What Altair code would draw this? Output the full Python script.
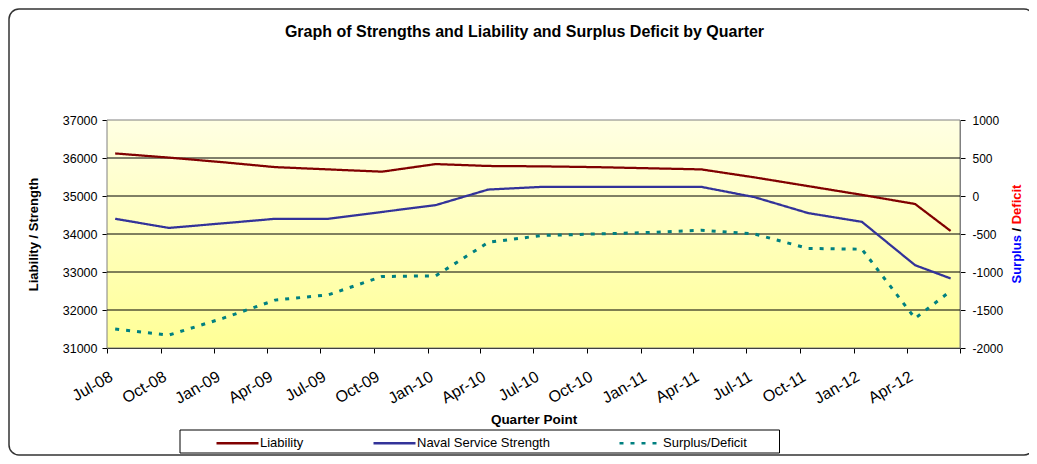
import altair as alt
import pandas as pd

# ---------------- data ----------------
quarters = ["Jul-08", "Oct-08", "Jan-09", "Apr-09", "Jul-09", "Oct-09", "Jan-10", "Apr-10",
            "Jul-10", "Oct-10", "Jan-11", "Apr-11", "Jul-11", "Oct-11", "Jan-12", "Apr-12", "Jul-12"]
point_dates = ["2008-07-15", "2008-10-15", "2009-01-15", "2009-04-15", "2009-07-15", "2009-10-15",
               "2010-01-15", "2010-04-15", "2010-07-15", "2010-10-15", "2011-01-15", "2011-04-15",
               "2011-07-15", "2011-10-15", "2012-01-15", "2012-04-15", "2012-06-15"]
liability = [36120, 36010, 35890, 35760, 35700, 35640, 35840, 35790, 35780,
             35760, 35730, 35700, 35490, 35260, 35030, 34790, 34080]
strength = [34400, 34160, 34280, 34400, 34400, 34580, 34760, 35170, 35240,
            35240, 35240, 35240, 34970, 34550, 34320, 33180, 32830]
surplus = [-1750, -1830, -1610, -1370, -1300, -1060, -1050, -610, -520,
           -500, -480, -450, -500, -690, -700, -1610, -1250]
series_names = ["Liability", "Naval Service Strength", "Surplus/Deficit"]
series_colors = ["#800000", "#333399", "#008080"]
left_ticks = [31000, 32000, 33000, 34000, 35000, 36000, 37000]
right_ticks = [-2000, -1500, -1000, -500, 0, 500, 1000]

title_text = "Graph of Strengths and Liability and Surplus Deficit by Quarter"

# ---------------- frames ----------------
n = len(point_dates)
left_df = pd.DataFrame({
    "date": point_dates * 2,
    "value": liability + strength,
    "series": [series_names[0]] * n + [series_names[1]] * n,
})
right_df = pd.DataFrame({"date": point_dates, "value": surplus, "series": series_names[2]})
grid_df = pd.DataFrame({"g": left_ticks[1:-1]})
one = pd.DataFrame({"k": [0]})

tick_dates = [pd.to_datetime(q, format="%b-%y") for q in quarters]


def dt(ts):
    return alt.DateTime(year=ts.year, month=ts.month, date=ts.day, utc=True)


W, H = 853, 228
FONT = "Liberation Sans"

x_axis = alt.Axis(
    values=[dt(t) for t in tick_dates],
    labelExpr="utcyear(datum.value) == 2012 && utcmonth(datum.value) == 6 ? '' : utcFormat(datum.value, '%b-%y')",
    labelAngle=330, labelAlign="right", labelBaseline="middle",
    labelPadding=22, labelOffset=4, labelFontSize=16, labelColor="black",
    tickSize=5, tickColor="black", domainColor="black", grid=False,
    title="Quarter Point", titleY=71, titleBaseline="middle", titleFontSize=13.5,
    titleFontWeight="bold", titleColor="black",
)
x_enc = alt.X("date:T",
              scale=alt.Scale(type="utc", domain=[dt(tick_dates[0]), dt(tick_dates[-1])]),
              axis=x_axis)

yl_scale = alt.Scale(domain=[left_ticks[0], left_ticks[-1]], nice=False, zero=False)
yl_axis = alt.Axis(
    values=left_ticks, labelExpr="'' + datum.value", grid=False,
    tickSize=5, tickColor="black", domainColor="#808080", labelPadding=5,
    labelFontSize=12.5, labelColor="black",
    title="Liability / Strength", titleX=-74, titleY=H / 2, titleAngle=270,
    titleAlign="center", titleBaseline="middle", titleFontSize=13,
    titleFontWeight="bold", titleColor="black",
)

legend = alt.Legend(
    title=None, orient="none", legendX=108, legendY=300.5, direction="horizontal",
    columnPadding=64, labelFontSize=13, labelColor="black", symbolSize=1764,
    symbolStrokeWidth=2.5, labelOffset=0, padding=0, symbolType="stroke",
)
color = alt.Color("series:N", scale=alt.Scale(domain=series_names, range=series_colors), legend=legend)
dash = alt.StrokeDash("series:N", scale=alt.Scale(domain=series_names, range=[[1, 0], [1, 0], [4, 7]]),
                      legend=legend)

# ---------------- layers ----------------
border = alt.Chart(one).mark_rect(filled=False, color="#333333", strokeWidth=1.5, cornerRadius=10).encode(
    x=alt.value(-98), x2=alt.value(W + 74), y=alt.value(-111), y2=alt.value(H + 107))

bg = alt.Chart(one).mark_rect(
    stroke="#808080", strokeWidth=1,
    fill=alt.Gradient(gradient="linear", x1=0, x2=0, y1=0, y2=1,
                      stops=[alt.GradientStop(offset=0, color="#FFFFE3"),
                             alt.GradientStop(offset=1, color="#FFFF96")]),
).encode(x=alt.value(0), x2=alt.value(W), y=alt.value(0), y2=alt.value(H))

grid = alt.Chart(grid_df).mark_rule(color="black", strokeWidth=1).encode(
    y=alt.Y("g:Q", scale=yl_scale, axis=yl_axis))

left_lines = alt.Chart(left_df).mark_line(strokeWidth=2.25).encode(
    x=x_enc, y=alt.Y("value:Q", scale=yl_scale, axis=yl_axis), color=color, strokeDash=dash)

left = alt.layer(grid, left_lines)

right_line = alt.Chart(right_df).mark_line(strokeWidth=3, strokeCap="butt").encode(
    x=x_enc,
    y=alt.Y("value:Q", scale=alt.Scale(domain=[right_ticks[0], right_ticks[-1]], nice=False, zero=False),
            axis=alt.Axis(orient="right", values=right_ticks, labelExpr="'' + datum.value", grid=False,
                          title=None, tickSize=5, tickColor="black", domainColor="#808080",
                          labelPadding=7, labelFontSize=12, labelColor="black")),
    color=color, strokeDash=dash)

legend_box = alt.Chart(one).mark_rect(filled=False, color="black", strokeWidth=1).encode(
    x=alt.value(73), x2=alt.value(672.5), y=alt.value(310), y2=alt.value(333))

main_title = alt.Chart(one).mark_text(font=FONT, fontSize=16, fontWeight="bold", color="black",
                                      align="center", baseline="alphabetic").encode(
    x=alt.value(W / 2 - 9), y=alt.value(-83), text=alt.value(title_text))

rt_x = W + 57
t_surplus = alt.Chart(one).mark_text(font=FONT, fontSize=13, fontWeight="bold", color="#0000FF",
                                     angle=270, align="left", baseline="middle").encode(
    x=alt.value(rt_x), y=alt.value(163.5), text=alt.value("Surplus"))
t_slash = alt.Chart(one).mark_text(font=FONT, fontSize=13, fontWeight="bold", color="black",
                                   angle=270, align="center", baseline="middle").encode(
    x=alt.value(rt_x), y=alt.value(109.7), text=alt.value("/"))
t_deficit = alt.Chart(one).mark_text(font=FONT, fontSize=13, fontWeight="bold", color="#FF0000",
                                     angle=270, align="left", baseline="middle").encode(
    x=alt.value(rt_x), y=alt.value(104.3), text=alt.value("Deficit"))

chart = alt.layer(
    border, bg, left, right_line, legend_box, main_title, t_surplus, t_slash, t_deficit
).resolve_scale(y="independent").properties(
    width=W, height=H,
    autosize=alt.AutoSizeParams(type="none"),
    padding={"left": 99, "top": 112, "right": 69, "bottom": 108},
    background="white",
).configure(font=FONT).configure_view(stroke=None).configure_axis(
    labelFont=FONT, titleFont=FONT
).configure_legend(labelFont=FONT)

chart.save("out.html", embed_options={"renderer": "svg", "actions": False})
